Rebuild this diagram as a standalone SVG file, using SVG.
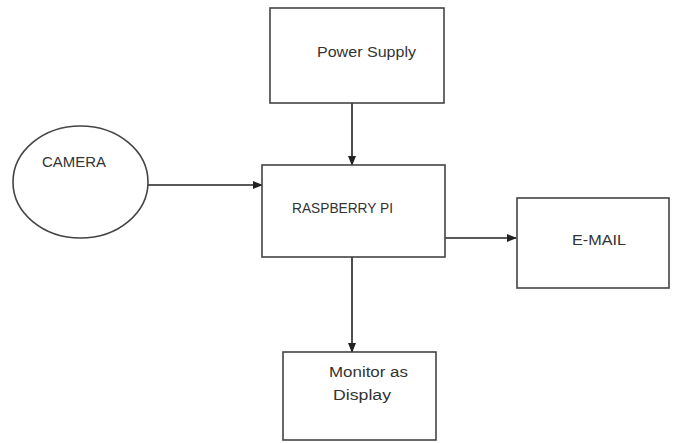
<svg xmlns="http://www.w3.org/2000/svg" width="676" height="443" viewBox="0 0 676 443">
<style>
.box{fill:#fff;stroke:#444;stroke-width:1.6}
.lbl{font-family:"Liberation Sans",Arial,sans-serif;font-size:15.5px;fill:#333}
.con{stroke:#222;stroke-width:1.6;fill:none;marker-end:url(#ah)}
</style>
<defs>
<marker id="ah" markerWidth="10" markerHeight="8" refX="9" refY="4" orient="auto" markerUnits="userSpaceOnUse">
<path d="M0,0 L10,4 L0,8 Z" fill="#222"/>
</marker>
</defs>
<rect width="676" height="443" fill="#fff"/>
<g id="connectors">
<line class="con" x1="352" y1="103" x2="352" y2="165"/>
<line class="con" x1="148" y1="185" x2="262" y2="185"/>
<line class="con" x1="445" y1="238" x2="516" y2="238"/>
<line class="con" x1="352" y1="257" x2="352" y2="352"/>
</g>
<g id="power-supply">
<rect class="box" x="270" y="8" width="174" height="95"/>
<text class="lbl" x="317" y="57" textLength="99" lengthAdjust="spacingAndGlyphs">Power Supply</text>
</g>
<g id="camera">
<ellipse class="box" cx="80.5" cy="182" rx="67.5" ry="56"/>
<text class="lbl" x="42" y="167" textLength="64" lengthAdjust="spacingAndGlyphs">CAMERA</text>
</g>
<g id="raspberry-pi">
<rect class="box" x="262" y="165" width="183" height="92"/>
<text class="lbl" x="292" y="213" textLength="101" lengthAdjust="spacingAndGlyphs">RASPBERRY PI</text>
</g>
<g id="email">
<rect class="box" x="517" y="198" width="152" height="90"/>
<text class="lbl" x="572" y="245" textLength="54" lengthAdjust="spacingAndGlyphs">E-MAIL</text>
</g>
<g id="monitor">
<rect class="box" x="283" y="352" width="153" height="88"/>
<text class="lbl" x="329" y="377" textLength="79" lengthAdjust="spacingAndGlyphs">Monitor as</text>
<text class="lbl" x="333" y="400" textLength="58" lengthAdjust="spacingAndGlyphs">Display</text>
</g>
</svg>
